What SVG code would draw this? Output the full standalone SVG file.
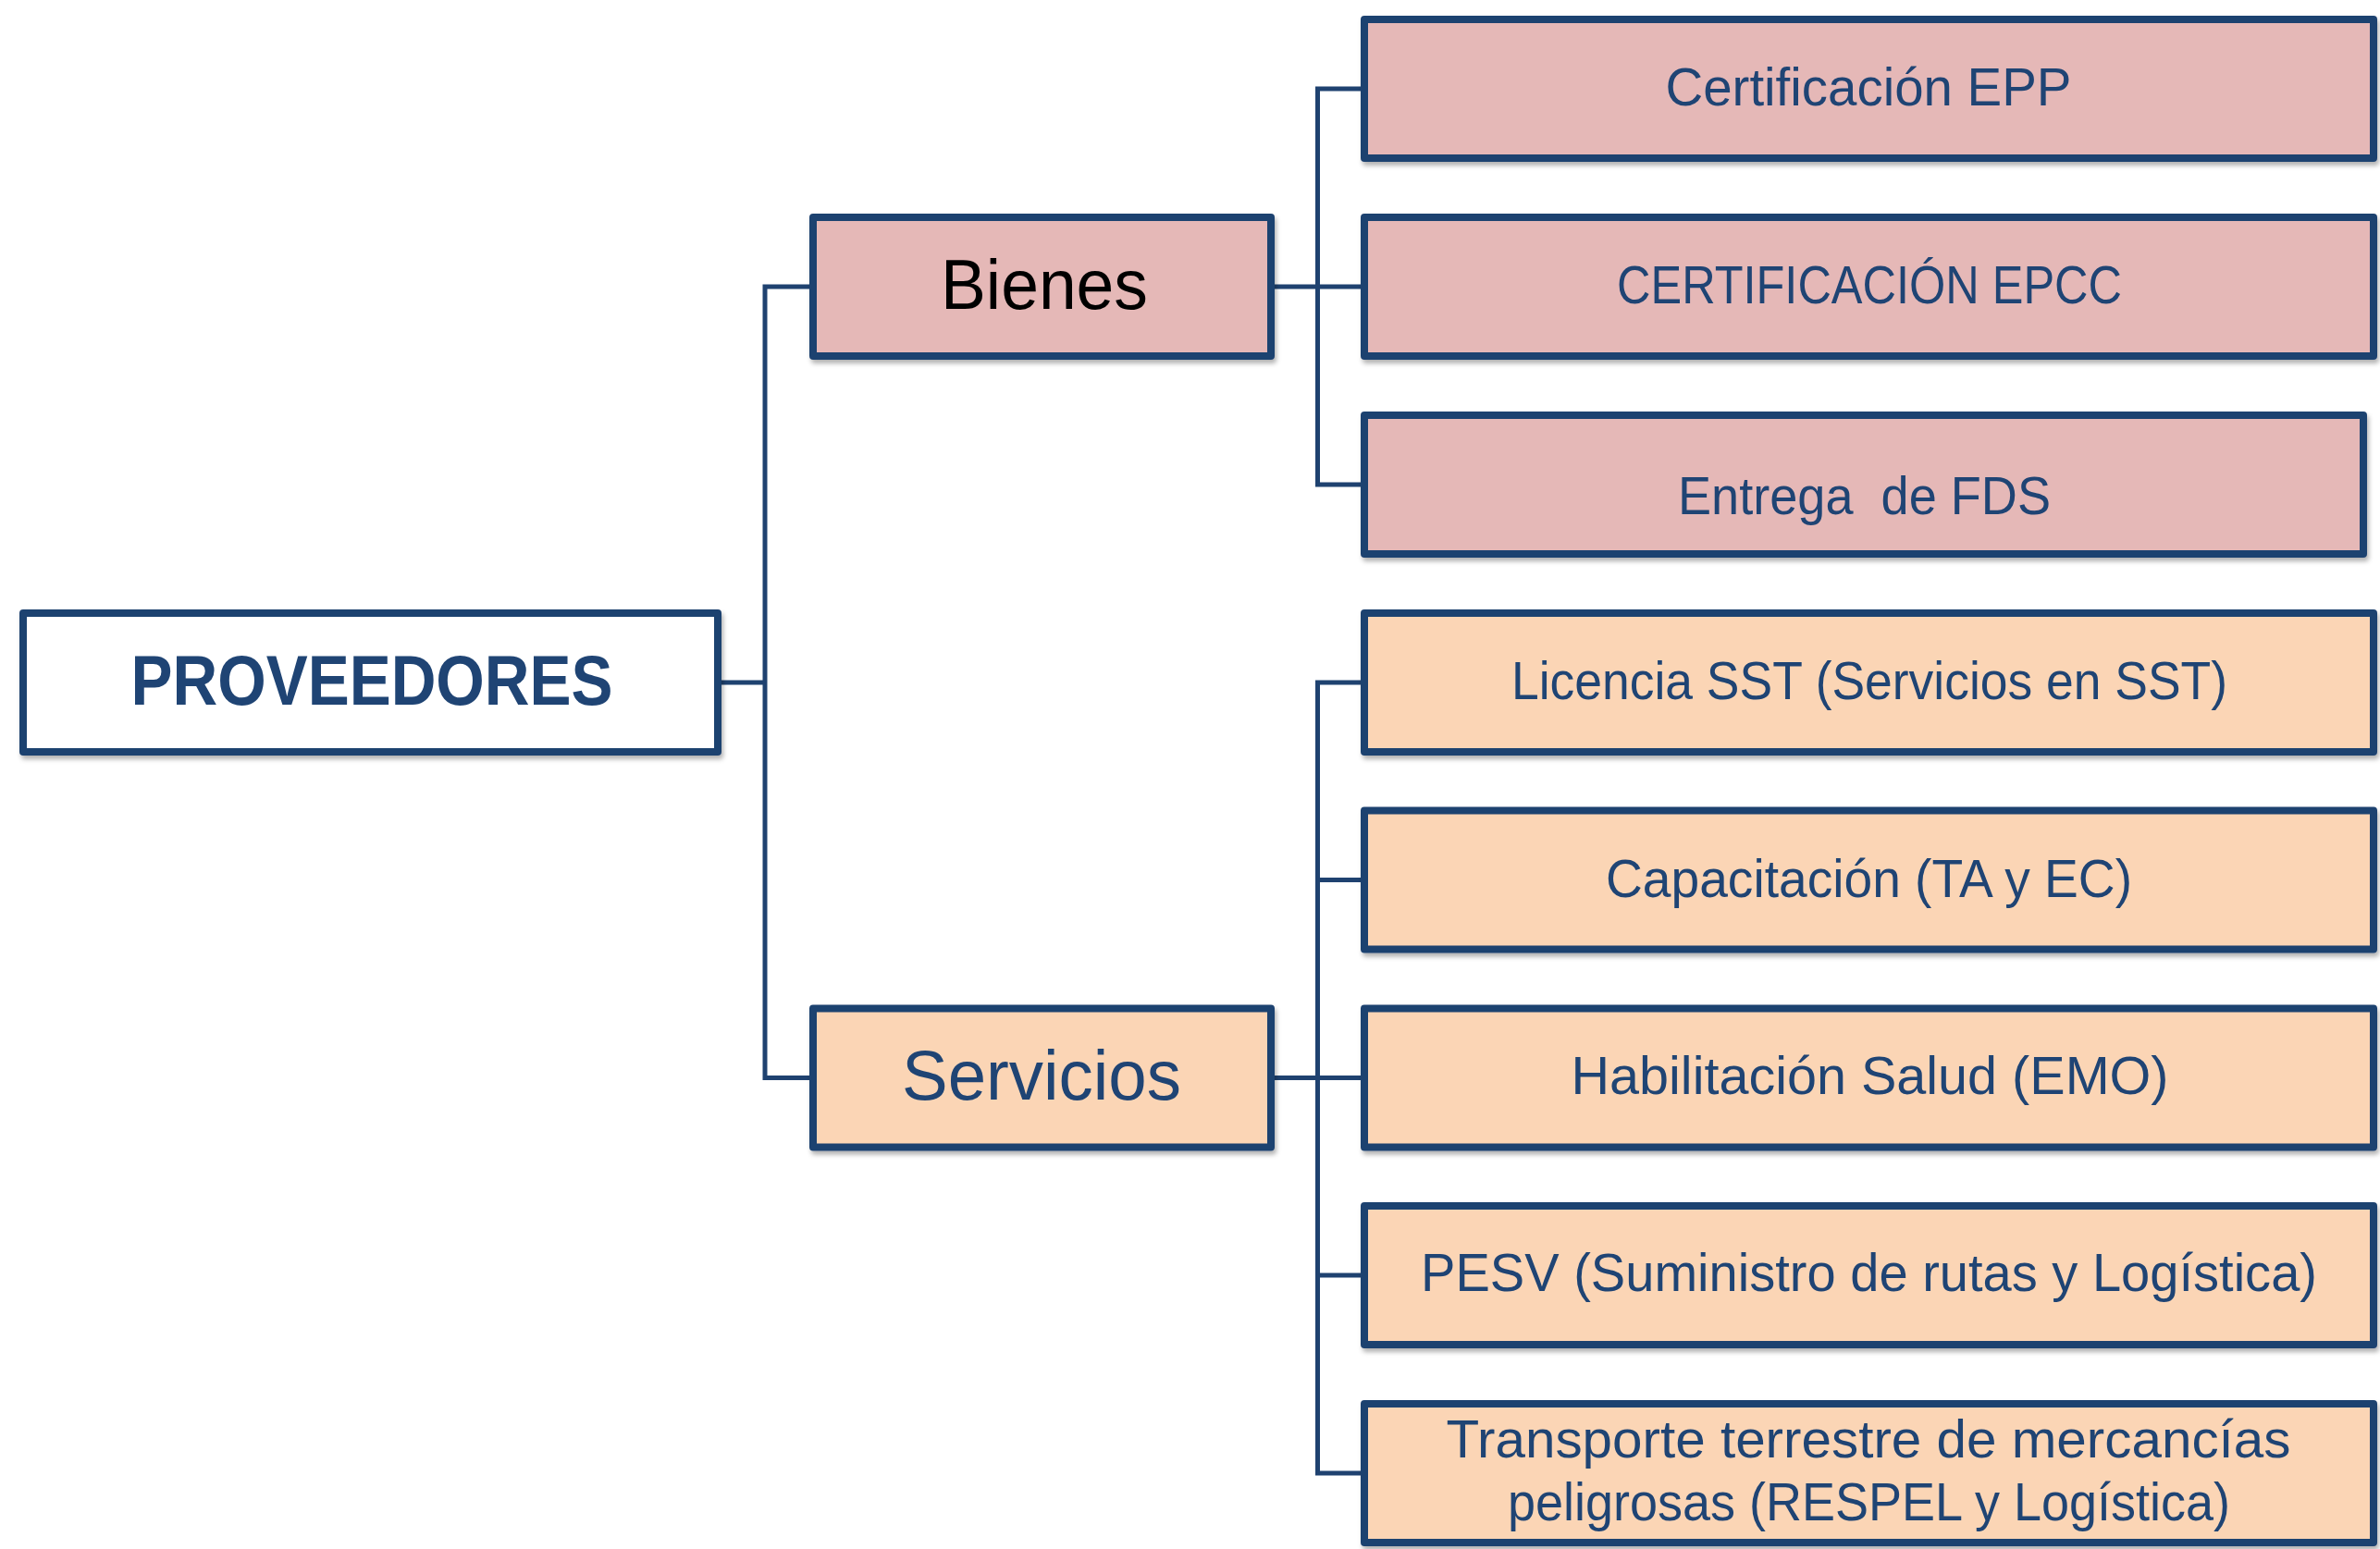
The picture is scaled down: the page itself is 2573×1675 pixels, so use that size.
<svg xmlns="http://www.w3.org/2000/svg" width="2573" height="1675" viewBox="0 0 2573 1675">
<style>
.box{stroke:#1F4270;stroke-width:8;stroke-linejoin:round;filter:url(#sh)}
.pink{fill:#E5B8B7}
.peach{fill:#FBD5B5}
.white{fill:#FFFFFF}
.t{font-family:"Liberation Sans",Arial,sans-serif;font-size:57px;fill:#1F4474;text-anchor:middle}
.big{font-size:76px}
.bold{font-weight:bold}
.con{fill:none;stroke:#1F4270;stroke-width:5;stroke-linejoin:miter;stroke-linecap:butt}
</style>
<defs>
<filter id="sh" x="-5%" y="-10%" width="110%" height="125%">
<feDropShadow dx="2" dy="4" stdDeviation="2.5" flood-color="#000" flood-opacity="0.3"/>
</filter>
</defs>
<rect width="2573" height="1675" fill="#FFFFFF"/>
<g id="connectors">
<path class="con" d="M776 738 H827 M879 310 H827 V1165.5 H879"/>
<path class="con" d="M1374 310 H1475 M1475 96 H1424.5 V524 H1475"/>
<path class="con" d="M1374 1165.5 H1475 M1475 738 H1424.5 V1593 H1475 M1424.5 951.5 H1475 M1424.5 1379 H1475"/>
</g>
<g id="proveedores">
<rect class="box white" x="25" y="663" width="751" height="150"/>
<text class="t big bold" x="402" y="761.5" textLength="521" lengthAdjust="spacingAndGlyphs">PROVEEDORES</text>
</g>
<g id="bienes">
<rect class="box pink" x="879" y="235" width="495" height="150"/>
<text class="t big" x="1129" y="333.5" fill="#000000" style="fill:#000" textLength="224" lengthAdjust="spacingAndGlyphs">Bienes</text>
</g>
<g id="servicios">
<rect class="box peach" x="879" y="1090.5" width="495" height="150"/>
<text class="t big" x="1126" y="1188.5" textLength="302" lengthAdjust="spacingAndGlyphs">Servicios</text>
</g>
<g id="cert-epp">
<rect class="box pink" x="1475" y="21" width="1091" height="150"/>
<text class="t" x="2020" y="113.5" textLength="439" lengthAdjust="spacingAndGlyphs">Certificación EPP</text>
</g>
<g id="cert-epcc">
<rect class="box pink" x="1475" y="235" width="1091" height="150"/>
<text class="t" x="2021" y="327.5" textLength="546" lengthAdjust="spacingAndGlyphs">CERTIFICACIÓN EPCC</text>
</g>
<g id="entrega-fds">
<rect class="box pink" x="1475" y="449" width="1080" height="150"/>
<text class="t" x="2015.5" y="555.5" textLength="403" lengthAdjust="spacingAndGlyphs" xml:space="preserve">Entrega  de FDS</text>
</g>
<g id="licencia">
<rect class="box peach" x="1475" y="663" width="1091" height="150"/>
<text class="t" x="2021" y="756" textLength="774" lengthAdjust="spacingAndGlyphs">Licencia SST (Servicios en SST)</text>
</g>
<g id="capacitacion">
<rect class="box peach" x="1475" y="876.5" width="1091" height="150"/>
<text class="t" x="2020.5" y="970" textLength="569" lengthAdjust="spacingAndGlyphs">Capacitación (TA y EC)</text>
</g>
<g id="habilitacion">
<rect class="box peach" x="1475" y="1090.5" width="1091" height="150"/>
<text class="t" x="2021.5" y="1182.5" textLength="646" lengthAdjust="spacingAndGlyphs">Habilitación Salud (EMO)</text>
</g>
<g id="pesv">
<rect class="box peach" x="1475" y="1304" width="1091" height="150"/>
<text class="t" x="2020.5" y="1396" textLength="969" lengthAdjust="spacingAndGlyphs">PESV (Suministro de rutas y Logística)</text>
</g>
<g id="transporte">
<rect class="box peach" x="1475" y="1518" width="1091" height="150"/>
<text class="t" x="2020" y="1575.5" textLength="913" lengthAdjust="spacingAndGlyphs">Transporte terrestre de mercancías</text>
<text class="t" x="2020.5" y="1644" textLength="781" lengthAdjust="spacingAndGlyphs">peligrosas (RESPEL y Logística)</text>
</g>
</svg>
